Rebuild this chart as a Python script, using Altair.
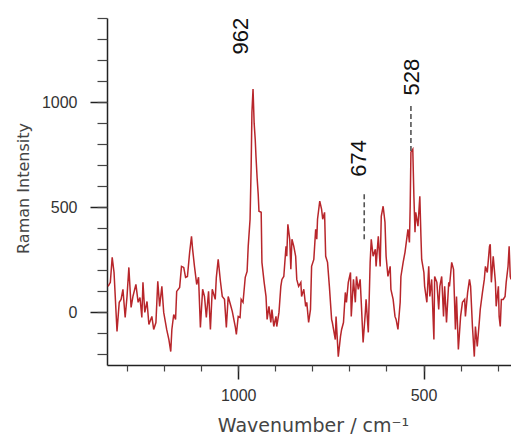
import altair as alt
import pandas as pd

# Raman spectrum (wavenumber in cm-1, intensity)
wavenumber = [
    1351, 1345, 1340, 1335, 1327, 1321, 1316, 1311, 1305, 1300, 1295, 1289, 1284, 1276, 1270,
    1265, 1260, 1257, 1252, 1246, 1241, 1233, 1228, 1222, 1217, 1212, 1206, 1201, 1193, 1187,
    1182, 1179, 1174, 1169, 1166, 1158, 1153, 1147, 1142, 1137, 1131, 1126, 1123, 1118, 1112,
    1107, 1102, 1096, 1091, 1086, 1080, 1075, 1070, 1062, 1059, 1054, 1048, 1043, 1037, 1032,
    1027, 1021, 1016, 1008, 1005, 1000, 995, 992, 987, 981, 976, 973, 968, 965, 963,
    960, 957, 954, 952, 949, 946, 944, 938, 936, 930, 925, 922, 917, 912, 909,
    904, 898, 896, 890, 885, 882, 877, 871, 869, 866, 861, 858, 855, 850, 845,
    842, 837, 831, 829, 823, 818, 815, 810, 805, 802, 796, 791, 788, 786, 780,
    775, 772, 767, 764, 759, 754, 748, 746, 738, 736, 730, 724, 721, 716, 711,
    708, 703, 697, 695, 689, 684, 681, 676, 671, 668, 663, 657, 655, 649, 644,
    641, 636, 630, 628, 622, 617, 614, 609, 604, 601, 596, 590, 588, 582, 577,
    574, 569, 563, 561, 555, 550, 542, 538, 536, 534, 529, 526, 523, 521, 515,
    510, 507, 505, 499, 497, 491, 486, 483, 478, 472, 470, 464, 459, 456, 451,
    446, 443, 438, 432, 430, 424, 419, 414, 411, 406, 400, 395, 389, 387, 381,
    376, 373, 368, 363, 360, 355, 349, 347, 341, 336, 333, 328, 322, 320, 317,
    312, 306, 304, 298, 296, 293, 290, 285, 280, 277, 272, 269, 266, 264, 261,
]
intensity = [
    124, 143, 262, 190, -90, 48, 62, 110, -24, 76, 214, 24, 76, 133, 48,
    71, -24, 143, 0, 52, -57, -19, -81, -48, 148, 29, 124, 0, -81, -129,
    -186, -81, -10, -33, 100, 119, 219, 214, 167, 171, 286, 362, 300, 219, 133,
    167, -71, 110, 76, -24, 100, -81, 110, 62, 167, 252, 148, 76, 62, -71,
    76, 38, 5, -67, -105, -19, -24, 62, 48, 167, 195, 314, 443, 700, 950,
    1062, 900, 820, 740, 640, 560, 481, 476, 238, 143, 76, -33, 29, -48, 14,
    -67, -19, -67, 0, 124, 157, 171, 314, 267, 419, 348, 205, 348, 314, 267,
    157, 124, 143, 76, 110, 29, 48, -48, 14, 219, 252, 395, 348, 443, 529,
    490, 443, 476, 267, 238, 124, -33, -48, -129, -19, -210, -114, -81, -48, 95,
    48, 143, 190, -19, 157, 48, 171, 110, 157, 48, -143, 0, 62, -95, 238,
    348, 267, 300, 219, 362, 219, 457, 505, 429, 267, 171, 219, 110, 62, -19,
    -33, -81, 48, 171, 238, 286, 395, 333, 505, 762, 776, 552, 381, 476, 410,
    552, 362, 252, 190, 124, 48, 219, 76, 157, -129, 171, 143, 14, 124, 171,
    -19, 124, -48, 143, 124, 238, 205, -81, 76, -176, -19, 48, 62, -19, 95,
    157, 124, -67, -210, -67, -162, -33, 14, 95, 157, 219, 190, 314, 324, 143,
    267, 143, 29, 124, -19, -67, 62, 62, 76, 143, 219, 314, 171, 157, 190,
]

# Peak annotations
peak_labels = ["962", "674", "528"]
label_wn = [992, 673, 531]
label_int = [1314, 733, 1119]
leader_wn = [660, 534]
leader_lo = [348, 767]
leader_hi = [571, 990]

# Axis ticks
x_major = [1000, 500]
x_minor = [1300, 1200, 1100, 1000, 900, 800, 700, 600, 500, 400, 300]
y_major = [0, 500, 1000]
y_minor = list(range(-200, 1500, 100))

spec = pd.DataFrame({"wn": wavenumber, "intensity": intensity, "i": range(len(wavenumber))})
labels = pd.DataFrame({"label": peak_labels, "wn": label_wn, "intensity": label_int})
leaders = pd.DataFrame({"wn": leader_wn, "lo": leader_lo, "hi": leader_hi})

xscale = alt.Scale(domain=[264, 1354], reverse=True, nice=False, zero=False)
yscale = alt.Scale(domain=[-250, 1400], nice=False, zero=False)

AX = dict(labelFont="Liberation Sans", labelFontSize=16, labelColor="#333333",
          titleFont="DejaVu Sans", titleColor="#444444", titleFontWeight="normal",
          domainColor="#222222", domainWidth=1.5, tickColor="#222222", tickWidth=1.5,
          grid=False, format="d")

line = alt.Chart(spec).mark_line(color="#b8262b", strokeWidth=1.5, clip=True).encode(
    x=alt.X("wn:Q", scale=xscale,
            axis=alt.Axis(values=x_major, tickSize=14, labelPadding=8, title="Wavenumber / cm⁻¹",
                          titleFontSize=19, titleX=206, titleY=51, **AX)),
    y=alt.Y("intensity:Q", scale=yscale,
            axis=alt.Axis(values=y_major, tickSize=17, labelPadding=13, title="Raman Intensity",
                          titleFontSize=16, titleX=-76, titleY=170, **AX)),
    order="i:Q",
)

minor = alt.Chart(spec).mark_line(strokeOpacity=0, clip=True).encode(
    x=alt.X("wn:Q", scale=xscale,
            axis=alt.Axis(values=x_minor, tickSize=6, labels=False, domain=False, grid=False,
                          orient="bottom", title="", tickColor="#444444", tickWidth=1.2)),
    y=alt.Y("intensity:Q", scale=yscale,
            axis=alt.Axis(values=y_minor, tickSize=10, labels=False, domain=False, grid=False,
                          orient="left", title="", tickColor="#444444", tickWidth=1.2)),
    order="i:Q",
)

rules = alt.Chart(leaders).mark_rule(color="#555555", strokeWidth=1.6, strokeDash=[5, 3]).encode(
    x=alt.X("wn:Q", scale=xscale, axis=None),
    y=alt.Y("lo:Q", scale=yscale, axis=None),
    y2="hi:Q",
)

texts = alt.Chart(labels).mark_text(angle=270, font="Liberation Sans", fontSize=22,
                                    color="#111111", align="center", baseline="middle").encode(
    x=alt.X("wn:Q", scale=xscale, axis=None),
    y=alt.Y("intensity:Q", scale=yscale, axis=None),
    text="label:N",
)

chart = alt.layer(line, minor, rules, texts).resolve_axis(
    x="independent", y="independent"
).properties(
    width=404, height=347,
    autosize=alt.AutoSizeParams(type="none"),
    padding={"left": 99, "top": 10, "right": 0, "bottom": 75},
    background="white",
).configure_view(stroke=None)

chart.save("out.html", embed_options={"renderer": "svg", "actions": False})
